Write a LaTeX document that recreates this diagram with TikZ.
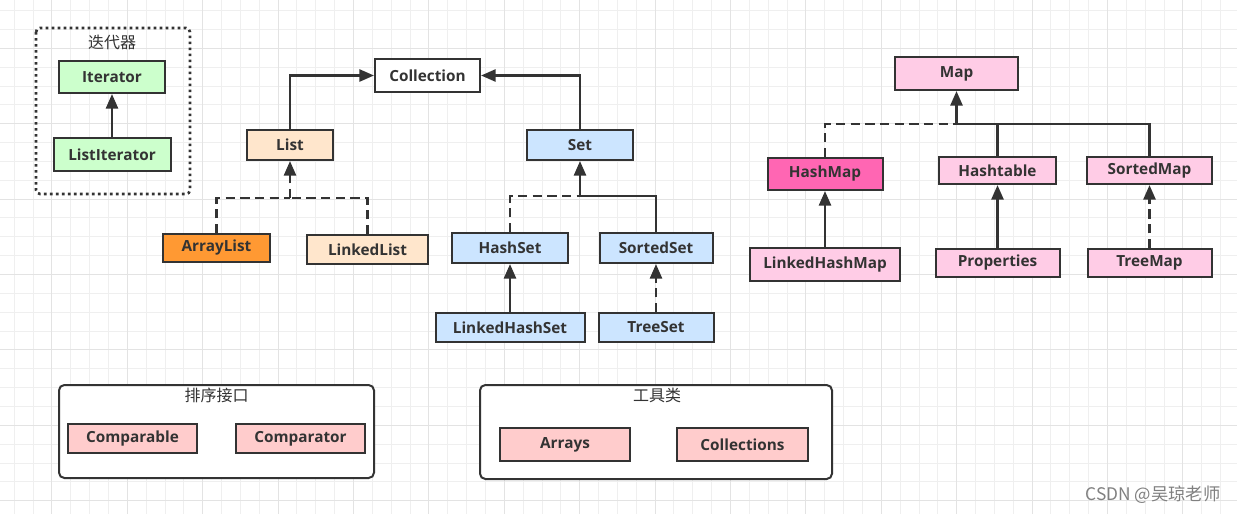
\documentclass[tikz,border=0pt]{standalone}
\usepackage{fontspec}
\setmainfont{Open Sans}
\newfontfamily\cjk{Noto Sans CJK SC}
\usepackage{tikz}
\usetikzlibrary{arrows.meta}
\definecolor{ink}{HTML}{333333}
\definecolor{gridminor}{HTML}{EFEFEF}
\definecolor{gridmajor}{HTML}{E3E3E3}
\definecolor{itgreen}{HTML}{CCFFCC}
\definecolor{lpeach}{HTML}{FFE6CC}
\definecolor{alorange}{HTML}{FF9933}
\definecolor{sblue}{HTML}{CCE5FF}
\definecolor{mpink}{HTML}{FFCCE6}
\definecolor{hmpink}{HTML}{FF66B3}
\definecolor{usalmon}{HTML}{FFCCCC}

\begin{document}
\begin{tikzpicture}[x=0.75pt,y=-0.75pt,
    cls/.style={draw=ink,line width=1.5pt,text=ink,inner sep=0pt,font=\fontsize{11.5}{13}\selectfont\bfseries},
    wire/.style={draw=ink,line width=2pt},
    dwire/.style={wire,dash pattern=on 7pt off 4pt},
    link/.style={wire,-{Triangle[width=9pt,length=11pt]}},
    dlink/.style={dwire,-{Triangle[width=9pt,length=11pt]}},
    groupbox/.style={draw=ink,line width=1.5pt,rounded corners=4pt},
    grouplabel/.style={text=ink,inner sep=0pt,font=\cjk\fontsize{12}{14}\selectfont}]
    \useasboundingbox (0,0) rectangle (1237,514);
    \fill[white] (0,0) rectangle (1237,514);

    \foreach \i in {0,...,65}
        \draw[gridminor,line width=0.75pt] ({14.2+\i*18.85},0) -- ({14.2+\i*18.85},514);
    \foreach \j in {0,...,27}
        \draw[gridminor,line width=0.75pt] (0,{10.6+\j*18.85}) -- (1237,{10.6+\j*18.85});
    \foreach \i in {2,6,...,62}
        \draw[gridmajor,line width=0.75pt] ({14.2+\i*18.85},0) -- ({14.2+\i*18.85},514);
    \foreach \j in {2,6,...,26}
        \draw[gridmajor,line width=0.75pt] (0,{10.6+\j*18.85}) -- (1237,{10.6+\j*18.85});

    \draw[ink,line width=2pt,dash pattern=on 2pt off 2.5pt,rounded corners=3pt] (36,28) rectangle (190,194);
    \node[grouplabel] (itertitle) at (112,42) {迭代器};
    \node[cls,fill=itgreen,minimum width=79.5pt,minimum height=24pt] (iterator) at (112,77) {Iterator};
    \node[cls,fill=itgreen,minimum width=87.75pt,minimum height=24.75pt] (listiter) at (112,154.5) {ListIterator};
    \draw[link] (listiter.north) -- (iterator.south);

    \node[cls,fill=white,minimum width=78.75pt,minimum height=24.75pt] (collection) at (427.5,75.5) {Collection};
    \node[cls,fill=lpeach,minimum width=64.5pt,minimum height=22.5pt] (list) at (290,145) {List};
    \node[cls,fill=sblue,minimum width=79.5pt,minimum height=22.5pt] (set) at (580,145) {Set};
    \draw[link] (list.north) |- (collection.west);
    \draw[link] (set.north) |- (collection.east);

    \node[cls,fill=alorange,minimum width=80.25pt,minimum height=21pt] (arraylist) at (216.5,248) {ArrayList};
    \node[cls,fill=lpeach,minimum width=90.75pt,minimum height=21.75pt] (linkedlist) at (367.5,249.5) {LinkedList};
    \coordinate (listj) at (290,198);
    \draw[dwire] (arraylist.north) |- (listj);
    \draw[dwire] (linkedlist.north) |- (listj);
    \draw[dlink] (listj) -- (list.south);

    \node[cls,fill=sblue,minimum width=87pt,minimum height=22.5pt] (hashset) at (510,248) {HashSet};
    \node[cls,fill=sblue,minimum width=84.75pt,minimum height=22.5pt] (sortedset) at (656,248) {SortedSet};
    \coordinate (setj) at (580,196);
    \draw[dwire] (hashset.north) |- (setj);
    \draw[wire] (sortedset.north) |- (setj);
    \draw[link] (setj) -- (set.south);

    \node[cls,fill=sblue,minimum width=111.75pt,minimum height=21.75pt] (linkedhashset) at (510,327.5) {LinkedHashSet};
    \node[cls,fill=sblue,minimum width=86.25pt,minimum height=21.75pt] (treeset) at (656,327.5) {TreeSet};
    \draw[link] (linkedhashset.north) -- (hashset.south);
    \draw[dlink] (treeset.north) -- (sortedset.south);

    \node[cls,fill=mpink,minimum width=92.25pt,minimum height=24.75pt] (map) at (956.5,73.5) {Map};
    \node[cls,fill=hmpink,minimum width=86.25pt,minimum height=24pt] (hashmap) at (825,174) {HashMap};
    \node[cls,fill=mpink,minimum width=87.75pt,minimum height=20.25pt] (hashtable) at (997.5,170.5) {Hashtable};
    \node[cls,fill=mpink,minimum width=93.75pt,minimum height=20.25pt] (sortedmap) at (1149.5,170.5) {SortedMap};
    \coordinate (mapj) at (956.5,124);
    \draw[dwire] (hashmap.north) |- (mapj);
    \draw[wire] (sortedmap.north) |- (mapj);
    \draw[wire] (hashtable.north) |- (mapj);
    \draw[link] (mapj) -- (map.south);

    \node[cls,fill=mpink,minimum width=112.5pt,minimum height=24.75pt] (linkedhashmap) at (825,264.5) {LinkedHashMap};
    \node[cls,fill=mpink,minimum width=93pt,minimum height=21pt] (properties) at (997.5,263) {Properties};
    \node[cls,fill=mpink,minimum width=93pt,minimum height=21pt] (treemap) at (1149.5,263) {TreeMap};
    \draw[link] (linkedhashmap.north) -- (hashmap.south);
    \draw[link] (properties.north) -- (hashtable.south);
    \draw[dlink] (treemap.north) -- (sortedmap.south);

    \draw[groupbox,fill=white] (59,385) rectangle (374,478);
    \node[grouplabel] (sorttitle) at (216.5,395) {排序接口};
    \node[cls,fill=usalmon,minimum width=96.75pt,minimum height=21.75pt] (comparable) at (132.5,438.5) {Comparable};
    \node[cls,fill=usalmon,minimum width=96.75pt,minimum height=21.75pt] (comparator) at (300.5,438.5) {Comparator};

    \draw[groupbox,fill=white] (480,385) rectangle (832,479);
    \node[grouplabel] (tooltitle) at (657,395) {工具类};
    \node[cls,fill=usalmon,minimum width=97.5pt,minimum height=24.75pt] (arrays) at (565,444.5) {Arrays};
    \node[cls,fill=usalmon,minimum width=98.25pt,minimum height=24.75pt] (collections) at (742.5,444.5) {Collections};

    \node[text=gray,inner sep=0pt,font=\cjk\fontsize{13}{15}\selectfont] (mark) at (1153,495) {CSDN @吴琼老师};
\end{tikzpicture}
\end{document}
